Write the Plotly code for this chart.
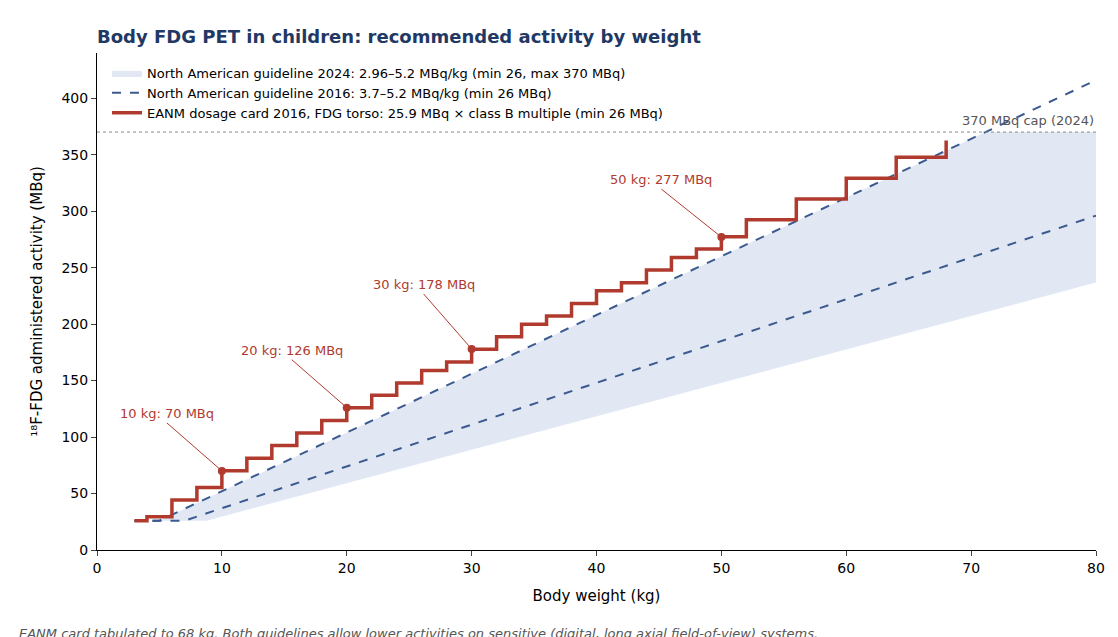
import plotly.graph_objects as go

# EANM dosage card 2016, class B, FDG torso (MBq)
eanm_kg = [3, 4, 6, 8, 10, 12, 14, 16, 18, 20, 22, 24, 26, 28, 30, 32, 34, 36, 38, 40,
           42, 44, 46, 48, 50, 52, 56, 60, 64, 68, 68]
eanm_mbq = [26, 29.5, 44.3, 55.4, 70.2, 81.3, 92.5, 103.6, 114.7, 125.9, 137.0, 147.9,
            159.0, 166.5, 177.7, 188.8, 199.9, 207.2, 218.3, 229.5, 236.7, 247.9, 259.0,
            266.5, 277.4, 292.4, 310.8, 329.2, 347.8, 362.6, 362.6]

# guideline knots (kg, MBq)
na2016_lo_kg = [3, 7.03, 80]
na2016_lo = [26, 26, 296]
na2016_hi_kg = [3, 5, 80]
na2016_hi = [26, 26, 416]
band_lo_kg = [3, 8.78, 80]
band_lo = [26, 26, 236.8]
band_hi_kg = [3, 5, 71.15, 80]
band_hi = [26, 26, 370, 370]

callout_kg = [10, 20, 30, 50]
callout_mbq = [70, 126, 178, 277]
callout_txt = ["10 kg: 70 MBq", "20 kg: 126 MBq", "30 kg: 178 MBq", "50 kg: 277 MBq"]
callout_off = [(-55, -48), (-55, -48), (-48, -55), (-60, -48)]

RED = "#b03a2e"
BLUE = "#3b5a8f"
BAND = "rgba(200,214,235,0.55)"

fig = go.Figure()
fig.add_scatter(x=band_hi_kg, y=band_hi, mode="lines", line=dict(width=0),
                showlegend=False, hoverinfo="skip")
fig.add_scatter(x=band_lo_kg, y=band_lo, mode="lines", line=dict(width=0),
                fill="tonexty", fillcolor=BAND, hoverinfo="skip",
                name="North American guideline 2024: 2.96–5.2 MBq/kg (min 26, max 370 MBq)")
fig.add_scatter(x=na2016_hi_kg, y=na2016_hi, mode="lines",
                line=dict(color=BLUE, width=2, dash="dash"),
                name="North American guideline 2016: 3.7–5.2 MBq/kg (min 26 MBq)")
fig.add_scatter(x=na2016_lo_kg, y=na2016_lo, mode="lines",
                line=dict(color=BLUE, width=2, dash="dash"), showlegend=False)
fig.add_scatter(x=eanm_kg, y=eanm_mbq, mode="lines", line=dict(color=RED, width=3.5, shape="hv"),
                name="EANM dosage card 2016, FDG torso: 25.9 MBq × class B multiple (min 26 MBq)")
fig.add_scatter(x=callout_kg, y=callout_mbq, mode="markers",
                marker=dict(color=RED, size=8), showlegend=False)

fig.add_hline(y=370, line=dict(color="#888", width=1, dash="dot"))
fig.add_annotation(x=80, y=370, text="370 MBq cap (2024)", showarrow=False,
                   xanchor="right", yanchor="bottom", yshift=2,
                   font=dict(size=13, color="#555"))

for kx, ky, t, (ax, ay) in zip(callout_kg, callout_mbq, callout_txt, callout_off):
    fig.add_annotation(x=kx, y=ky, text=t, ax=ax, ay=ay, showarrow=True, arrowhead=0,
                       arrowwidth=1, arrowcolor=RED, font=dict(size=13, color=RED),
                       yanchor="bottom")

fig.add_annotation(x=0, y=0, xref="paper", yref="paper", xanchor="left", yanchor="top",
                   xshift=-80, yshift=-74, showarrow=False,
                   text="<i>EANM card tabulated to 68 kg. Both guidelines allow lower activities on sensitive (digital, long axial field-of-view) systems.</i>",
                   font=dict(size=13, color="#555"))

axis = dict(showline=True, linecolor="black", linewidth=1, ticks="outside", ticklen=5,
            showgrid=False, zeroline=False, tickfont=dict(size=14), automargin=False)
fig.update_layout(
    width=1118, height=637,
    font=dict(family="DejaVu Sans", size=14, color="black"),
    plot_bgcolor="white", paper_bgcolor="white",
    margin=dict(l=89, r=30, t=45, b=95, autoexpand=False),
    title=dict(text="<b>Body FDG PET in children: recommended activity by weight</b>",
               x=89 / 1118, xanchor="left", y=0.955, yanchor="middle",
               font=dict(size=18, color="#1f3864")),
    xaxis=dict(axis, range=[0, 80], dtick=10, title=dict(text="Body weight (kg)", font=dict(size=15))),
    yaxis=dict(axis, range=[0, 440], dtick=50, title=dict(text="¹⁸F-FDG administered activity (MBq)", font=dict(size=15))),
    legend=dict(x=0.01, y=0.99, xanchor="left", yanchor="top", bgcolor="rgba(255,255,255,0.8)",
                font=dict(size=13), tracegroupgap=0, traceorder="normal"),
)
fig.write_html("out.html")
